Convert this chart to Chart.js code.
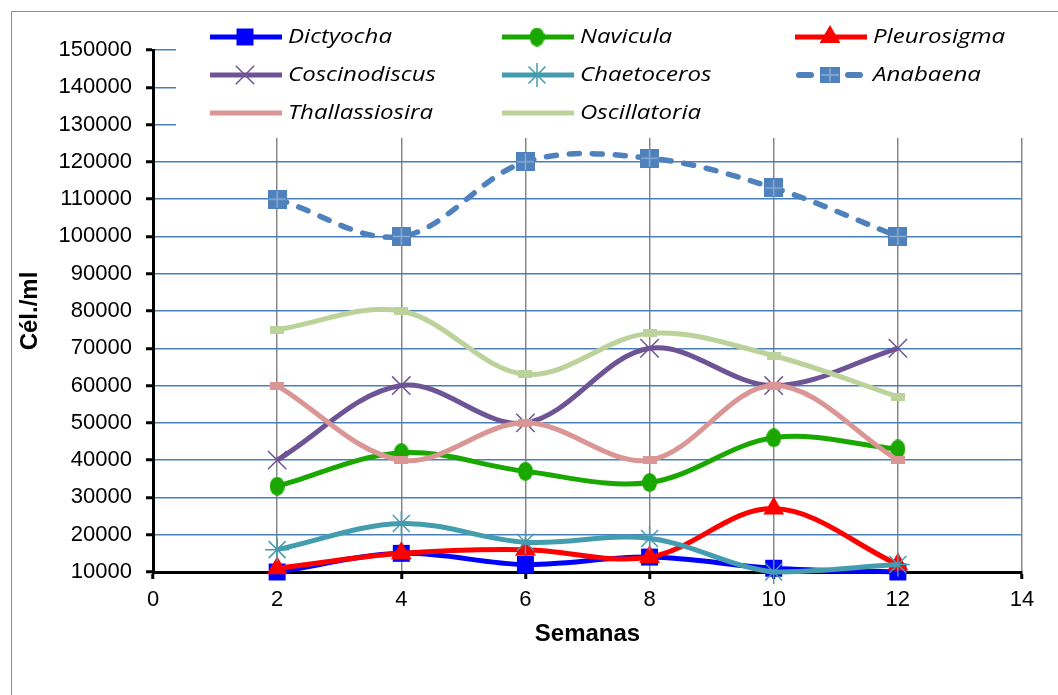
<!DOCTYPE html>
<html>
<head>
<meta charset="utf-8">
<script src="https://cdn.jsdelivr.net/npm/chart.js@4/dist/chart.umd.min.js"></script>
<style>
  html, body { margin: 0; padding: 0; background: #fff; }
  #wrap { width: 1058px; height: 695px; }
</style>
</head>
<body>
<div id="wrap"><canvas id="chart" width="1058" height="695"></canvas></div>
<script>
const semanas = [2, 4, 6, 8, 10, 12];
const dictyocha = [10000, 15000, 12000, 14000, 11000, 10000];
const navicula = [33000, 42000, 37000, 34000, 46000, 43000];
const pleurosigma = [11000, 15000, 16000, 14000, 27000, 12000];
const coscinodiscus = [40000, 60000, 50000, 70000, 60000, 70000];
const chaetoceros = [16000, 23000, 18000, 19000, 10000, 12000];
const anabaena = [110000, 100000, 120000, 121000, 113000, 100000];
const thallassiosira = [60000, 40000, 50000, 40000, 60000, 40000];
const oscillatoria = [75000, 80000, 63000, 74000, 68000, 57000];

const xMin = 0, xMax = 14, xStep = 2;
const yMin = 10000, yMax = 150000, yStep = 10000;

// small canvases used as point styles
const makeMarker = (w, h, draw) => {
  const c = document.createElement("canvas");
  c.width = w;
  c.height = h;
  draw(c.getContext("2d"), w, h);
  return c;
};

const ellipseGreen = makeMarker(15, 19, (ctx, w, h) => {
  ctx.fillStyle = "#1aa800";
  ctx.beginPath();
  ctx.ellipse(w / 2, h / 2, w / 2, h / 2, 0, 0, Math.PI * 2);
  ctx.fill();
});

const crossSquare = (w, h) => makeMarker(w, h, (ctx) => {
  ctx.fillStyle = "#4f81bd";
  ctx.fillRect(0, 0, w, h);
  ctx.strokeStyle = "rgba(255,255,255,0.35)";
  ctx.lineWidth = 1.5;
  ctx.beginPath();
  ctx.moveTo(w / 2, 1);
  ctx.lineTo(w / 2, h - 1);
  ctx.moveTo(1, h / 2);
  ctx.lineTo(w - 1, h / 2);
  ctx.stroke();
});
const squareAnabaena = crossSquare(19, 19);
const legendAnabaena = crossSquare(20, 16);

const dashPink = makeMarker(14, 8, (ctx, w, h) => {
  ctx.fillStyle = "#d99694";
  ctx.fillRect(0, 0, w, h);
});

const dashGreen = makeMarker(14, 8, (ctx, w, h) => {
  ctx.fillStyle = "#bcd29b";
  ctx.fillRect(0, 0, w, h);
});

const toPoints = (values) => values.map((v, i) => ({ x: semanas[i], y: v }));

const series = [
  { label: "Dictyocha", data: dictyocha, color: "#0000ff", style: "rect", radius: 12, fill: "#0000ff", bw: 0 },
  { label: "Navicula", data: navicula, color: "#1aa800", style: ellipseGreen, radius: 9, fill: "#1aa800", bw: 0 },
  { label: "Pleurosigma", data: pleurosigma, color: "#ff0000", style: "triangle", radius: 12, fill: "#ff0000", bw: 0 },
  { label: "Coscinodiscus", data: coscinodiscus, color: "#6e5494", style: "crossRot", radius: 13, fill: "#6e5494", bw: 1.5 },
  { label: "Chaetoceros", data: chaetoceros, color: "#449caf", style: "star", radius: 12, fill: "#449caf", bw: 1.5 },
  { label: "Anabaena", data: anabaena, color: "#4f81bd", style: squareAnabaena, radius: 10, fill: "#4f81bd", bw: 0, dash: [10, 13] },
  { label: "Thallassiosira", data: thallassiosira, color: "#d99694", style: dashPink, radius: 7, fill: "#d99694", bw: 0, noLegendMarker: true },
  { label: "Oscillatoria", data: oscillatoria, color: "#bcd29b", style: dashGreen, radius: 7, fill: "#bcd29b", bw: 0, noLegendMarker: true },
];

const datasets = series.map((s, i) => ({
  label: s.label,
  data: toPoints(s.data),
  borderColor: s.color,
  backgroundColor: s.fill,
  borderWidth: s.dash ? 5.5 : 5,
  borderDash: s.dash || [],
  borderCapStyle: s.dash ? "round" : "butt",
  tension: 0.35,
  pointStyle: s.style,
  pointRadius: s.radius,
  pointBorderWidth: s.bw,
  pointBorderColor: s.color,
  pointBackgroundColor: s.fill,
  clip: false,
  order: series.length - i,
}));

// chart border lines (top and left, the rest is cut off)
const framePlugin = {
  id: "frame",
  beforeDraw(chart) {
    const ctx = chart.ctx;
    ctx.save();
    ctx.fillStyle = "#fff";
    ctx.fillRect(0, 0, chart.width, chart.height);
    ctx.strokeStyle = "#8c8c8c";
    ctx.lineWidth = 1;
    ctx.beginPath();
    ctx.moveTo(11.5, chart.height);
    ctx.lineTo(11.5, 11.5);
    ctx.lineTo(chart.width, 11.5);
    ctx.stroke();
    ctx.restore();
  },
};

// legend drawn over the top of the plot, 3 columns
const legendPlugin = {
  id: "boxLegend",
  afterDraw(chart) {
    const ctx = chart.ctx;
    const cols = [208, 500, 793];
    const rows = [37, 75, 113];
    ctx.save();
    ctx.fillStyle = "#fff";
    ctx.fillRect(176, 16, 860, 122);
    ctx.font = 'italic 20px "Open Sans"';
    const sx = 104 / ctx.measureText("Dictyocha").width;
    series.forEach((s, i) => {
      const x0 = cols[i % 3];
      const y = rows[Math.floor(i / 3)];
      ctx.strokeStyle = s.color;
      ctx.beginPath();
      if (s.dash) {
        ctx.lineWidth = 6;
        ctx.lineCap = "round";
        ctx.moveTo(x0 + 6, y);
        ctx.lineTo(x0 + 18, y);
        ctx.moveTo(x0 + 55, y);
        ctx.lineTo(x0 + 67, y);
      } else {
        ctx.lineWidth = 5;
        ctx.lineCap = "butt";
        ctx.moveTo(x0 + 2, y);
        ctx.lineTo(x0 + 74, y);
      }
      ctx.stroke();
      if (!s.noLegendMarker) {
        ctx.fillStyle = s.fill;
        ctx.strokeStyle = s.color;
        ctx.lineWidth = s.bw || 1;
        Chart.helpers.drawPoint(ctx, {
          pointStyle: s.dash ? legendAnabaena : s.style,
          radius: s.radius,
          rotation: 0,
          borderWidth: s.bw,
        }, x0 + (s.dash ? 37 : 37), y);
      }
      ctx.fillStyle = "#000";
      ctx.textBaseline = "middle";
      ctx.save();
      ctx.translate(x0 + 80, y);
      ctx.scale(sx, 1);
      ctx.fillText(s.label, 0, 0);
      ctx.restore();
    });
    ctx.restore();
  },
};

new Chart(document.getElementById("chart"), {
  type: "line",
  data: { datasets },
  options: {
    responsive: false,
    animation: false,
    layout: { padding: { left: 0, top: 50, right: 36, bottom: 0 } },
    plugins: {
      legend: { display: false },
      tooltip: { enabled: false },
    },
    scales: {
      x: {
        type: "linear",
        min: xMin,
        max: xMax,
        ticks: {
          stepSize: xStep,
          color: "#000",
          padding: 8,
          font: { family: '"Liberation Sans", Arial', size: 22 },
        },
        grid: {
          color: "#888888",
          lineWidth: 1.5,
          tickColor: "#000",
          tickLength: 7,
          tickWidth: 3,
        },
        border: { color: "#000", width: 3 },
        title: {
          display: true,
          text: "Semanas",
          color: "#000",
          font: { family: '"Liberation Sans", Arial', size: 24, weight: "bold" },
          padding: { top: 0, bottom: 46 },
        },
        afterFit: (scale) => {
          scale.height = 123;
        },
      },
      y: {
        min: yMin,
        max: yMax,
        ticks: {
          stepSize: yStep,
          color: "#000",
          padding: 14,
          font: { family: '"Liberation Sans", Arial', size: 22 },
          callback: (value) => String(value),
        },
        grid: {
          color: "#4a7ebb",
          lineWidth: 1.5,
          tickColor: "#000",
          tickLength: 7,
          tickWidth: 3,
        },
        border: { color: "#000", width: 3 },
        title: {
          display: true,
          text: "Cél./ml",
          color: "#000",
          font: { family: '"Liberation Sans", Arial', size: 24, weight: "bold" },
          padding: { top: 16, bottom: 0 },
        },
        afterFit: (scale) => {
          scale.width = 153;
        },
      },
    },
  },
  plugins: [framePlugin, legendPlugin],
});
</script>
</body>
</html>
